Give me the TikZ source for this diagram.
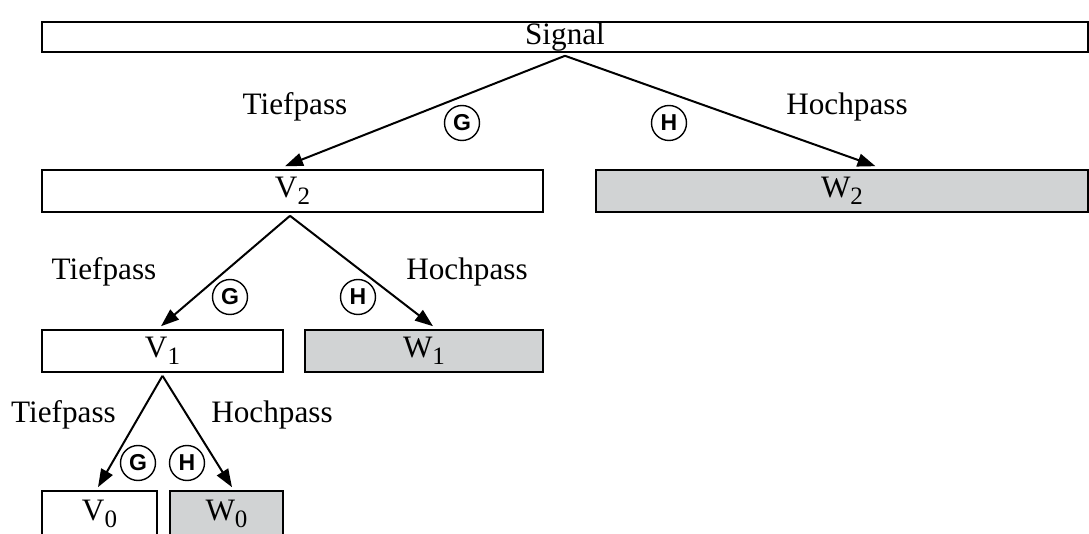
\documentclass[tikz,border=0pt]{standalone}
\usepackage{fontspec}
\setmainfont{Liberation Serif}
\setsansfont{Liberation Sans}
\usepackage{tikz}
\usetikzlibrary{arrows.meta, positioning}

\definecolor{bandgray}{RGB}{209,211,212}

% index of a subband
\newcommand{\bandidx}[1]{\raisebox{-0.45ex}{\fontsize{12.5}{13}\selectfont #1}}

\begin{document}
\begin{tikzpicture}[
  x=0.5pt, y=-0.5pt,
  every node/.style={font=\fontsize{15.6}{18}\selectfont},
  band/.style={draw, rectangle, inner sep=0pt, line width=0.8pt, minimum height=21pt},
  detail/.style={band, fill=bandgray},
  filt/.style={draw, circle, line width=0.7pt, minimum size=17.5pt, inner sep=0pt, font=\fontsize{11.5}{13}\sffamily\bfseries},
  passlabel/.style={anchor=base},
  flow/.style={-{Triangle[length=9pt, width=6.5pt]}, line width=1pt}
]
\useasboundingbox (0,0) rectangle (1089,534);

% bands of the decomposition
\node[band, minimum width=523pt, minimum height=15pt] (Sig) at (565,37) {Signal};

\node[band, minimum width=250.5pt] (V2) at (292.5,191) {V\bandidx{2}};
\node[detail, minimum width=246pt] (W2) at (842,191) {W\bandidx{2}};

\node[band, minimum width=120.5pt] (V1) at (162.5,351) {V\bandidx{1}};
\node[detail, minimum width=119pt] (W1) at (424,351) {W\bandidx{1}};

\node[band, minimum width=57.5pt, minimum height=23pt] (V0) at (99.5,514) {V\bandidx{0}};
\node[detail, minimum width=56.5pt, minimum height=23pt] (W0) at (226.5,514) {W\bandidx{0}};

% filter labels
\node[passlabel] (TP2) at (295,115) {Tiefpass};
\node[passlabel] (HP2) at (847,115) {Hochpass};
\node[filt] (G2) at (462,123) {G};
\node[filt] (H2) at (669,123) {H};

\node[passlabel] (TP1) at (104,280) {Tiefpass};
\node[passlabel] (HP1) at (467,280) {Hochpass};
\node[filt] (G1) at (230,297) {G};
\node[filt] (H1) at (358,297) {H};

\node[passlabel] (TP0) at (63.5,423) {Tiefpass};
\node[passlabel] (HP0) at (272,423) {Hochpass};
\node[filt] (G0) at (138,463) {G};
\node[filt] (H0) at (187,463) {H};

% splitting arrows
\draw[flow] ([yshift=-1.5pt]Sig.south) -- ([xshift=-3.75pt, yshift=1.5pt]V2.north);
\draw[flow] ([yshift=-1.5pt]Sig.south) -- ([xshift=16.75pt, yshift=1.5pt]W2.north);

\draw[flow] ([xshift=-1.25pt, yshift=-1.5pt]V2.south) -- ([xshift=-0.75pt, yshift=1.5pt]V1.north);
\draw[flow] ([xshift=-1.25pt, yshift=-1.5pt]V2.south) -- ([xshift=4.5pt, yshift=1.5pt]W1.north);

\draw[flow] ([yshift=-1.5pt]V1.south) -- ([xshift=-0.75pt, yshift=1.5pt]V0.north);
\draw[flow] ([yshift=-1.5pt]V1.south) -- ([xshift=2.75pt, yshift=1.5pt]W0.north);
\end{tikzpicture}
\end{document}
